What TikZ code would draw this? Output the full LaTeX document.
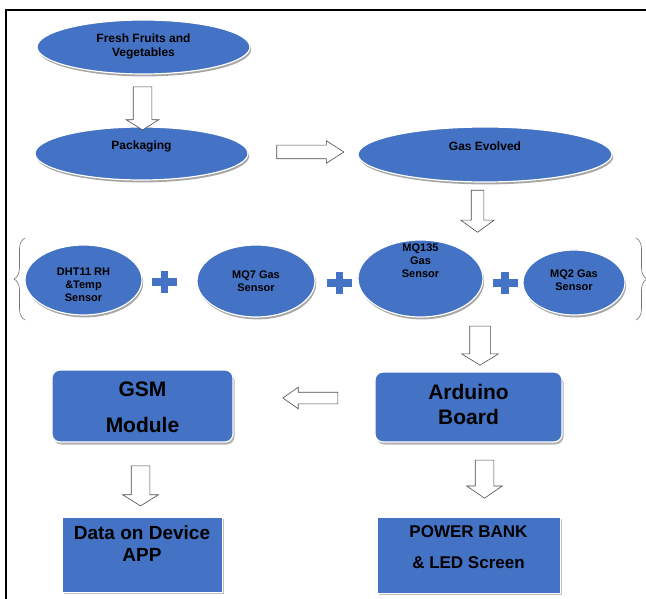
\documentclass[tikz,border=0pt]{standalone}
\usepackage{fontspec}
\setmainfont{Liberation Sans}
\usetikzlibrary{shapes.geometric,shapes.arrows,shadows,decorations.pathreplacing}

\definecolor{boxblue}{HTML}{4472C4}
% text block, lifted inside its shape
\newcommand{\lift}[2]{\raisebox{#1}[0pt][0pt]{\begin{tabular}{@{}c@{}}#2\end{tabular}}}

\tikzset{
    blob/.style={ellipse, fill=boxblue, draw=white, line width=1.2pt, inner sep=0pt,
        font=\fontsize{11}{13}\selectfont\bfseries,
        drop shadow={shadow xshift=1.2pt, shadow yshift=-2.4pt, fill=black!35, opacity=1}},
    panel/.style={rectangle, rounded corners=8pt, fill=boxblue, draw=white, line width=1.2pt, inner sep=0pt,
        drop shadow={shadow xshift=1.5pt, shadow yshift=-2.5pt, fill=black!30, opacity=1}},
    screen/.style={rectangle, fill=boxblue, draw=white, line width=1pt, inner sep=0pt,
        drop shadow={shadow xshift=2pt, shadow yshift=-2pt, fill=black!25, opacity=1}},
    hollow/.style={single arrow, draw=black!70, fill=white, line width=0.6pt,
        single arrow head indent=0pt},
    curly/.style={draw=black!55, line width=0.6pt, decorate},
}

\begin{document}
\begin{tikzpicture}[x=1pt, y=-1pt]
    \useasboundingbox (0,0) rectangle (646,599);
    \draw[line width=2.5pt] (6,599) -- (6,10) -- (646,10);

    \newcommand{\bluecross}[2]{
        \fill[boxblue] (#1-12.5,#2-4) rectangle (#1+12.5,#2+4);
        \fill[boxblue] (#1-3.75,#2-11) rectangle (#1+3.75,#2+11);
    }

    % top chain
    \node[blob, minimum width=213pt, minimum height=54pt, font=\fontsize{12}{14}\selectfont\bfseries] (fresh) at (143.5,47) {\lift{-3pt}{Fresh Fruits and\\Vegetables}};
    \node[blob, minimum width=213pt, minimum height=53pt, font=\fontsize{12}{14}\selectfont\bfseries] (pack) at (141.5,153.5) {\lift{3.5pt}{Packaging}};
    \node[blob, minimum width=254pt, minimum height=55pt, font=\fontsize{12}{14}\selectfont\bfseries] (gas) at (485,154.5) {\lift{3.5pt}{Gas Evolved}};

    \node[hollow, shape border rotate=270, inner sep=9pt, minimum height=43pt, minimum width=32pt,
        single arrow head extend=7pt, single arrow tip angle=116] (a1) at (142.5,105.5) {};
    \node[hollow, inner sep=6.5pt, minimum height=67pt, minimum width=22pt,
        single arrow head extend=4.5pt, single arrow tip angle=66] (a2) at (305,152) {};
    \node[hollow, shape border rotate=270, inner sep=6pt, minimum height=42pt, minimum width=33pt,
        single arrow head extend=10.5pt, single arrow tip angle=108] (a3) at (477.5,209) {};

    % sensors
    \draw[curly, decoration={brace, amplitude=11pt}] (25,320) -- (25,238);
    \draw[curly, decoration={brace, amplitude=11pt}] (636,238) -- (636,320);

    \node[blob, minimum width=117pt, minimum height=70pt] (dht) at (83.5,280) {\lift{-9pt}{DHT11 RH\\\&Temp\\Sensor}};
    \node[blob, minimum width=118pt, minimum height=72pt] (mq7) at (256,281) {\lift{-4.5pt}{MQ7 Gas\\Sensor}};
    \node[blob, minimum width=125pt, minimum height=77pt] (mq135) at (420.5,278.5) {\lift{13.5pt}{MQ135\\Gas\\Sensor}};
    \node[blob, minimum width=102pt, minimum height=65pt] (mq2) at (574,282.5) {\lift{-1.5pt}{MQ2 Gas\\Sensor}};

    \bluecross{164.5}{282}
    \bluecross{339.5}{283}
    \bluecross{505}{283}

    \node[hollow, shape border rotate=270, inner sep=10pt, minimum height=39pt, minimum width=36pt,
        single arrow head extend=8pt, single arrow tip angle=117] (a4) at (480,342.5) {};

    % boards
    \node[panel, minimum width=187pt, minimum height=70pt, font=\fontsize{21}{25}\selectfont\bfseries] (ard) at (468.5,407) {\lift{-4.8pt}{Arduino\\[0pt]Board}};
    \node[panel, minimum width=181pt, minimum height=72pt, font=\fontsize{21}{25}\selectfont\bfseries] (gsm) at (142.5,406) {\lift{-8.8pt}{GSM\\[11.5pt]Module}};

    \node[hollow, shape border rotate=180, inner sep=5.5pt, minimum height=55pt, minimum width=21pt,
        single arrow head extend=5pt, single arrow tip angle=70] (a5) at (314.5,398) {};
    \node[hollow, shape border rotate=270, inner sep=9pt, minimum height=40pt, minimum width=35pt,
        single arrow head extend=8.5pt, single arrow tip angle=116] (a6) at (140.5,483) {};
    \node[hollow, shape border rotate=270, inner sep=9pt, minimum height=38pt, minimum width=35pt,
        single arrow head extend=8.5pt, single arrow tip angle=111] (a7) at (484.5,476) {};

    \node[screen, minimum width=160pt, minimum height=75pt, font=\fontsize{19}{22.5}\selectfont\bfseries] (app) at (142,554.5) {\lift{4.4pt}{Data on Device\\APP}};
    \node[screen, minimum width=183pt, minimum height=76pt, font=\fontsize{17}{20}\selectfont\bfseries] (power) at (468.5,555) {\lift{1.8pt}{POWER BANK\\[11.5pt]\& LED Screen}};
\end{tikzpicture}
\end{document}
